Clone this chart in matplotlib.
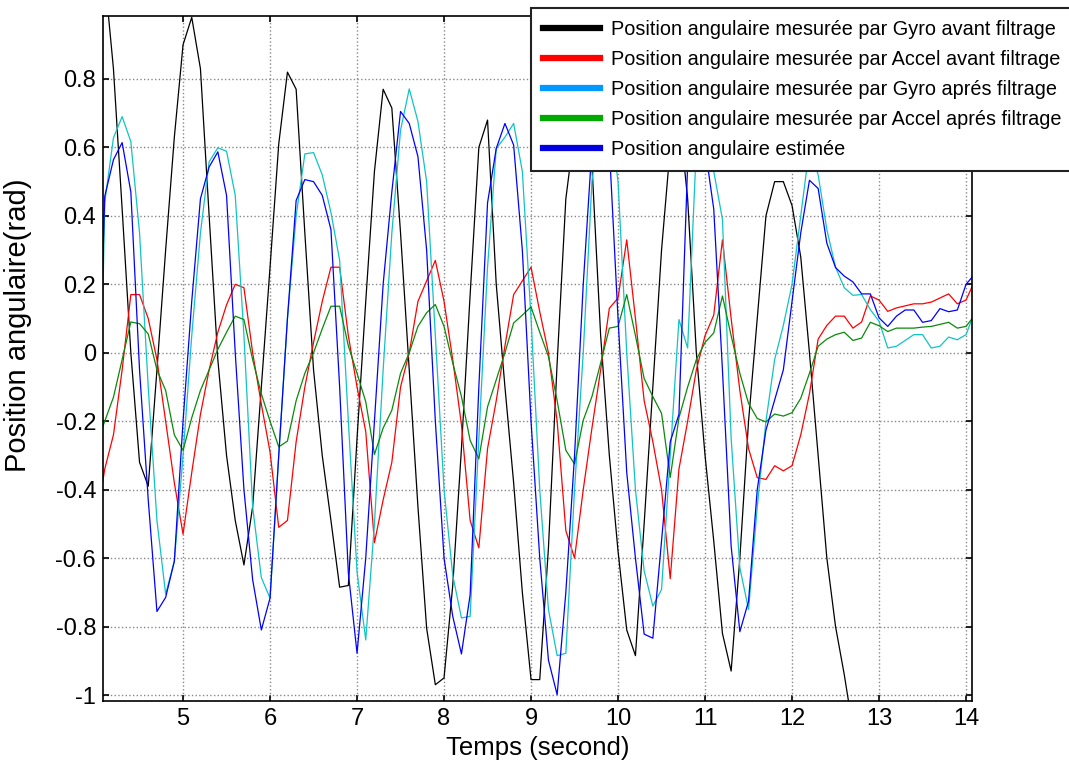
import numpy as np
import matplotlib
matplotlib.use("Agg")
import matplotlib.pyplot as plt
from matplotlib.lines import Line2D

# ─────────────────────────────────────────────
# Data (sampled every 0.1 s, read off the reference)
# ─────────────────────────────────────────────

t = np.round(np.arange(4.0, 14.15, 0.1), 1)

gyro_raw = [
    0.95, 1.10, 0.83, 0.42, 0.00, -0.32, -0.39, -0.05, 0.30, 0.63,
    0.90, 0.98, 0.83, 0.40, -0.02, -0.30, -0.49, -0.62, -0.45, -0.10,
    0.25, 0.61, 0.82, 0.77, 0.35, -0.05, -0.30, -0.49, -0.685, -0.68,
    -0.25, 0.15, 0.53, 0.77, 0.715, 0.35, -0.05, -0.45, -0.805, -0.97,
    -0.95, -0.68, -0.28, 0.17, 0.60, 0.68, 0.20, -0.10, -0.38, -0.70,
    -0.955, -0.955, -0.57, -0.03, 0.45, 0.65, 0.70, 0.55, 0.05, -0.30,
    -0.58, -0.81, -0.885, -0.50, -0.10, 0.30, 0.60, 0.70, 0.45, 0.00,
    -0.30, -0.55, -0.82, -0.93, -0.60, -0.20, 0.10, 0.40, 0.50, 0.50,
    0.43, 0.28, 0.00, -0.30, -0.60, -0.80, -0.94, -1.10, -1.30,
]

accel_raw = [
    -0.50, -0.34, -0.24, -0.05, 0.17, 0.17, 0.10, -0.02, -0.20, -0.38,
    -0.53, -0.35, -0.18, -0.05, 0.06, 0.14, 0.20, 0.19, 0.00, -0.15,
    -0.29, -0.51, -0.49, -0.26, -0.10, 0.03, 0.15, 0.25, 0.25, 0.05,
    -0.10, -0.23, -0.555, -0.43, -0.32, -0.10, 0.00, 0.15, 0.21, 0.27,
    0.15, -0.02, -0.21, -0.49, -0.57, -0.28, -0.14, 0.02, 0.17, 0.21,
    0.25, 0.12, 0.00, -0.20, -0.52, -0.60, -0.40, -0.22, -0.05, 0.13,
    0.16, 0.33, 0.10, -0.14, -0.26, -0.40, -0.66, -0.34, -0.20, -0.05,
    0.05, 0.11, 0.33, 0.10, -0.11, -0.28, -0.365, -0.37, -0.33, -0.345,
    -0.33, -0.24, -0.12, 0.04, 0.08, 0.107, 0.107, 0.072, 0.09, 0.166,
    0.154, 0.121, 0.131, 0.137, 0.143, 0.143, 0.148, 0.16, 0.172, 0.143,
    0.154, 0.21,
]

gyro_filt = [
    -0.86, 0.44, 0.628, 0.69, 0.617, 0.35, -0.10, -0.49, -0.705, -0.609,
    -0.30, 0.05, 0.35, 0.558, 0.599, 0.589, 0.46, 0.05, -0.45, -0.657,
    -0.717, -0.30, 0.10, 0.40, 0.581, 0.585, 0.52, 0.41, 0.27, -0.20,
    -0.64, -0.839, -0.50, -0.05, 0.35, 0.65, 0.771, 0.676, 0.50, 0.05,
    -0.40, -0.65, -0.775, -0.77, -0.25, 0.25, 0.597, 0.63, 0.67, 0.53,
    0.10, -0.40, -0.75, -0.885, -0.878, -0.40, 0.00, 0.50, 0.70, 0.70,
    0.50, 0.00, -0.40, -0.637, -0.74, -0.692, -0.30, 0.097, 0.014, 0.60,
    0.72, 0.53, 0.39, -0.25, -0.628, -0.75, -0.45, -0.20, -0.02, 0.08,
    0.20, 0.40, 0.60, 0.52, 0.36, 0.25, 0.19, 0.168, 0.17, 0.126,
    0.092, 0.014, 0.019, 0.036, 0.053, 0.053, 0.014, 0.019, 0.046, 0.038,
    0.053, 0.12,
]

accel_filt = [
    -0.27, -0.20, -0.13, -0.02, 0.09, 0.085, 0.055, -0.05, -0.11, -0.24,
    -0.285, -0.19, -0.11, -0.05, 0.01, 0.06, 0.107, 0.097, -0.02, -0.12,
    -0.20, -0.275, -0.258, -0.14, -0.06, 0.00, 0.07, 0.136, 0.136, 0.02,
    -0.06, -0.143, -0.297, -0.22, -0.168, -0.06, 0.00, 0.077, 0.117, 0.141,
    0.077, -0.03, -0.128, -0.256, -0.31, -0.158, -0.079, 0.00, 0.087, 0.11,
    0.134, 0.06, -0.011, -0.14, -0.285, -0.325, -0.197, -0.128, -0.03, 0.072,
    0.077, 0.17, 0.05, -0.075, -0.128, -0.177, -0.364, -0.19, -0.10, -0.02,
    0.03, 0.058, 0.166, 0.05, -0.06, -0.148, -0.192, -0.202, -0.179, -0.185,
    -0.175, -0.133, -0.06, 0.019, 0.04, 0.053, 0.06, 0.036, 0.043, 0.089,
    0.079, 0.062, 0.072, 0.072, 0.072, 0.075, 0.077, 0.083, 0.089, 0.072,
    0.077, 0.11,
]

estimate = [
    -0.43, 0.457, 0.564, 0.614, 0.47, -0.05, -0.43, -0.756, -0.715, -0.609,
    -0.20, 0.15, 0.45, 0.543, 0.587, 0.46, 0.00, -0.40, -0.663, -0.81,
    -0.717, -0.30, 0.10, 0.445, 0.506, 0.50, 0.46, 0.36, -0.10, -0.643,
    -0.878, -0.60, -0.20, 0.20, 0.47, 0.705, 0.67, 0.573, 0.30, -0.20,
    -0.60, -0.77, -0.88, -0.707, -0.10, 0.438, 0.597, 0.67, 0.607, 0.30,
    -0.20, -0.60, -0.898, -0.999, -0.70, -0.30, 0.20, 0.60, 0.70, 0.60,
    0.10, -0.35, -0.60, -0.822, -0.834, -0.55, -0.26, -0.18, 0.55, 0.70,
    0.60, 0.42, -0.05, -0.565, -0.815, -0.726, -0.40, -0.226, -0.138, -0.05,
    0.15, 0.35, 0.504, 0.48, 0.32, 0.249, 0.224, 0.207, 0.172, 0.172,
    0.102, 0.077, 0.107, 0.125, 0.125, 0.089, 0.094, 0.129, 0.12, 0.125,
    0.20, 0.23,
]

labels = [
    "Position angulaire mesurée par Gyro avant filtrage",
    "Position angulaire mesurée par Accel avant filtrage",
    "Position angulaire mesurée par Gyro aprés filtrage",
    "Position angulaire mesurée par Accel aprés filtrage",
    "Position angulaire estimée",
]

y_ticks = [-1, -0.8, -0.6, -0.4, -0.2, 0, 0.2, 0.4, 0.6, 0.8]
y_ticklabels = ["-1", "-0.8", "-0.6", "-0.4", "-0.2", "0", "0.2", "0.4", "0.6", "0.8"]
x_ticks = [5, 6, 7, 8, 9, 10, 11, 12, 13, 14]

# line colours vs. the (slightly different) legend swatch colours
line_colors = ["#000000", "#ff0000", "#10c4c4", "#0a8a0a", "#0000ff"]
swatch_colors = ["#000000", "#ff0000", "#0099ff", "#00aa00", "#0000e0"]


# ─────────────────────────────────────────────
# Plot
# ─────────────────────────────────────────────

plt.rcParams["font.family"] = ["Liberation Sans", "DejaVu Sans"]
plt.rcParams["axes.unicode_minus"] = False

fig = plt.figure(figsize=(10.69, 7.73), dpi=100)
ax = fig.add_axes([103 / 1069, 72 / 773, 868.7 / 1069, 685 / 773])

series = [gyro_raw, accel_raw, gyro_filt, accel_filt, estimate]
for values, color in zip(series, line_colors):
    ax.plot(t[:len(values)], values, color=color, lw=0.9)

ax.set_xlim(4.08, 14.065)
ax.set_ylim(-1.0175, 0.984)
ax.set_xticks(x_ticks)
ax.set_yticks(y_ticks)
ax.set_yticklabels(y_ticklabels)

ax.grid(True, color="#888888", linestyle=":", linewidth=1.0)
ax.tick_params(direction="in", length=4, width=1.2, labelsize=17,
               top=True, right=True, pad=5)
for spine in ax.spines.values():
    spine.set_linewidth(1.2)

ax.set_xlabel("Temps (second)", fontsize=18.5, labelpad=4)
ax.set_ylabel("Position angulaire(rad)", fontsize=21)
ax.yaxis.set_label_coords(-0.082, 0.549)

handles = [Line2D([], [], color=c, lw=4.5) for c in swatch_colors]
leg = fig.legend(handles, labels, loc="upper left",
                 bbox_to_anchor=(531 / 1069, 1 - 8 / 773),
                 fontsize=14.3, frameon=True, fancybox=False,
                 framealpha=1, edgecolor="#222222",
                 handlelength=2.85, handletextpad=0.6,
                 labelspacing=0.56, borderpad=0.6, borderaxespad=0)
leg.get_frame().set_linewidth(1.5)

fig.savefig("out.png", dpi=100)
